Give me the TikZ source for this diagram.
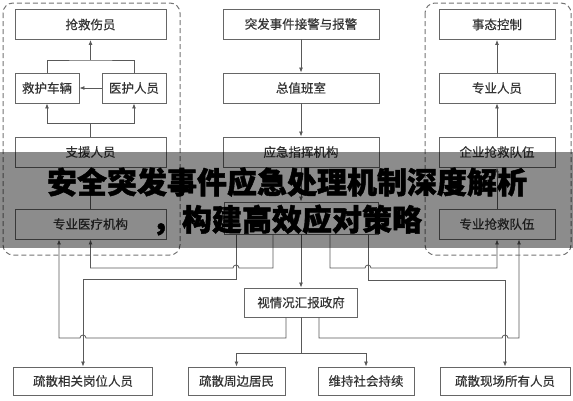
\documentclass[tikz,border=0pt]{standalone}
\usepackage{fontspec}
\newfontfamily\cjk{Noto Sans CJK SC}[FakeBold=0.4]
\newfontfamily\cjktitle{Noto Sans CJK SC}[BoldFeatures={FakeBold=1.5}]
\usetikzlibrary{arrows.meta}
\begin{document}
\begin{tikzpicture}[x=1pt,y=-1pt,
		box/.style={draw=black!60,fill=white,line width=0.9pt,inner sep=0pt,minimum height=30pt,font=\cjk\fontsize{12.5}{14}\selectfont,text=black!80},
		con/.style={draw=black!65,line width=0.8pt},
		group/.style={draw=black!55,line width=1pt,rounded corners=10pt,dash pattern=on 5pt off 3pt},
		title/.style={font=\cjktitle\bfseries\fontsize{30}{34}\selectfont,inner sep=0pt},
		>={Latex[length=5pt,width=4pt]}]
		\useasboundingbox (0,0) rectangle (573,400);
		\node[box,minimum width=151pt] (shangyuan) at (90.5,24.5) {抢救伤员};
		\node[box,minimum width=64pt] (cheliang) at (47,88) {救护车辆};
		\node[box,minimum width=64pt] (yihu) at (134,88) {医护人员};
		\node[box,minimum width=151pt] (zhiyuan) at (90.5,152) {支援人员};
		\node[box,minimum width=151pt] (yiliao) at (90.5,224) {专业医疗机构};
		\node[box,minimum width=156pt] (jiejing) at (301,24) {突发事件接警与报警};
		\node[box,minimum width=156pt] (zhiban) at (301,88) {总值班室};
		\node[box,minimum width=156pt] (zhihui) at (301,152) {应急指挥机构};
		\node[box,minimum width=154pt,minimum height=32pt] (xianchang) at (301,218) {};
		\node[box,minimum width=113pt,minimum height=29pt] (huibao) at (301,302.5) {视情况汇报政府};
		\node[box,minimum width=116pt] (shitai) at (497,24.5) {事态控制};
		\node[box,minimum width=116pt] (zhuanye) at (497,88) {专业人员};
		\node[box,minimum width=116pt] (qiangjiuA) at (497,152) {企业抢救队伍};
		\node[box,minimum width=116pt] (qiangjiuB) at (497,224) {专业抢救队伍};
		\node[box,minimum width=139pt,minimum height=28pt] (shusanA) at (83,381) {疏散相关岗位人员};
		\node[box,minimum width=97pt,minimum height=28pt] (shusanB) at (236.5,381) {疏散周边居民};
		\node[box,minimum width=96pt,minimum height=28pt] (weichi) at (366,381) {维持社会持续};
		\node[box,minimum width=130pt,minimum height=28pt] (shusanD) at (505,381) {疏散现场所有人员};
		\draw[con,->] (yihu) -- (cheliang);
		\draw[con] (cheliang.north) |- (90.5,60) -| (yihu.north);
		\draw[con,->] (90.5,60) -- (shangyuan.south);
		\draw[con] (zhiyuan.north) -- (90.5,123) coordinate (split);
		\draw[con,->] (split) -| (cheliang.south);
		\draw[con,->] (split) -| (yihu.south);
		\draw[con,->] (yiliao) -- (zhiyuan);
		\draw[con,->] (jiejing) -- (zhiban);
		\draw[con,->] (zhiban) -- (zhihui);
		\draw[con,->] (zhihui) -- (xianchang);
		\draw[con,->] (xianchang) -- (huibao);
		\draw[con,->] (zhuanye) -- (shitai);
		\draw[con,->] (qiangjiuA) -- (zhuanye);
		\draw[con,->] (qiangjiuB) -- (qiangjiuA);
		\draw[con,->] ([xshift=-65pt]xianchang.south) |- (83,279) -- (shusanA.north);
		\draw[con,->] ([xshift=-28pt]xianchang.south) -- (273,268) -- (239,268) arc[start angle=0,end angle=180,radius=3pt] -- (90.5,268) -- (yiliao.south);
		\draw[con,->] ([xshift=29pt]xianchang.south) -- (330,268) -- (365,268) arc[start angle=180,end angle=0,radius=3pt] -- (497,268) -- (qiangjiuB.south);
		\draw[con,->] ([xshift=67pt]xianchang.south) |- (505,280) -- (shusanD.north);
		\draw[con,->] ([xshift=-15pt]huibao.south) -- (286,338) -- (86,338) arc[start angle=0,end angle=180,radius=3pt] -- (59,338) -- ([xshift=-31.5pt]yiliao.south);
		\draw[con] (huibao.south) -- (301,353) coordinate (fork);
		\draw[con,->] (fork) -| (shusanB.north);
		\draw[con,->] (fork) -| (weichi.north);
		\draw[con,->] ([xshift=18pt]huibao.south) -- (319,338) -- (502,338) arc[start angle=180,end angle=0,radius=3pt] -- (519,338) -- ([xshift=22pt]qiangjiuB.south);
		\draw[group] (3,3) rectangle (180,255);
		\draw[group] (425,3) rectangle (571,255);
		\fill[black,opacity=0.45] (0,152) rectangle (573,248);
		\node[title] (titleA) at (287,182) {安全突发事件应急处理机制深度解析};
		\node[title] (titleB) at (287,220) {，构建高效应对策略};
	\end{tikzpicture}
\end{document}
